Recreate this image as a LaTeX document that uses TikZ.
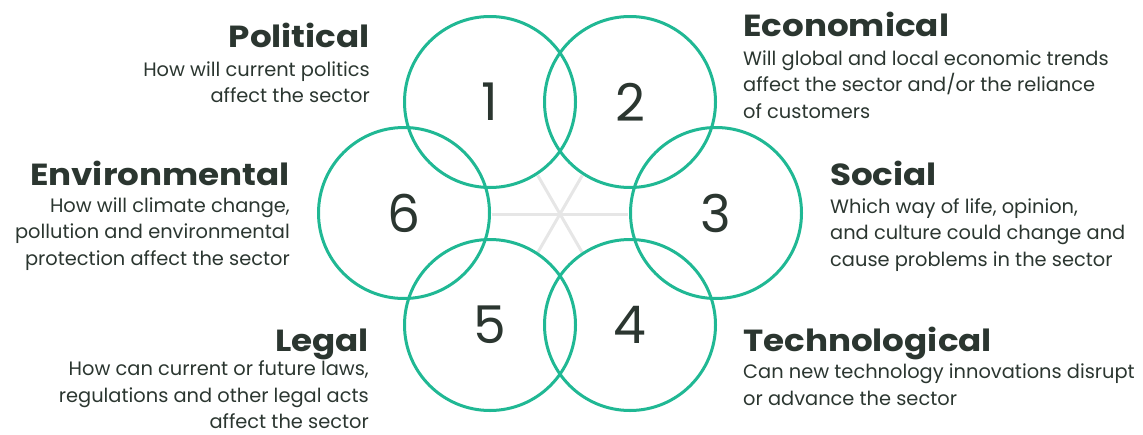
\documentclass[tikz,border=0pt]{standalone}
\usepackage{fontspec}
\setmainfont{Poppins}
\newfontfamily\headfont[FakeStretch=1.12]{Poppins}
\usepackage{tikz}
\usetikzlibrary{positioning}
\definecolor{ringgreen}{RGB}{32,184,148}
\definecolor{inkgreen}{HTML}{2B3630}
\definecolor{spokegray}{HTML}{E6E6E6}

\begin{document}
\begin{tikzpicture}[x=1pt,y=-1pt,
    ring/.style={circle,draw=ringgreen,line width=3pt,minimum size=171pt,
      inner sep=0pt,text=inkgreen,font=\fontsize{52}{52}\selectfont},
    head/.style={text=inkgreen,inner sep=0pt,font=\headfont\bfseries\fontsize{30.5}{30.5}\selectfont},
    blurb/.style={text=inkgreen,inner sep=0pt,font=\fontsize{19.4}{26.5}\selectfont}]
	\useasboundingbox (0,0) rectangle (1143,434);
%	spokes in the middle
	\coordinate (hub) at (560,214);
	\foreach \ang/\len in {0/68,180/68,60/44.5,120/44.5,240/44.5,300/44.5}
	  \draw[spokegray,line width=3pt] (hub) -- ++(\ang:\len);
%	the six rings
	\node[ring] (r1) at (490,102) {1};
	\node[ring] (r2) at (630,102) {2};
	\node[ring] (r3) at (716,213) {3};
	\node[ring] (r4) at (630,325) {4};
	\node[ring] (r5) at (490,325) {5};
	\node[ring] (r6) at (404,213) {6};
%	left texts (base = last line)
	\node[head,anchor=base east] (polH) at (370,47.5) {Political};
	\node[blurb,anchor=base east,align=right] (polB) at (370,102.5)
	  {How will current politics\\affect the sector};
	\node[head,anchor=base east] (envH) at (290,185) {Environmental};
	\node[blurb,anchor=base east,align=right] (envB) at (290,265)
	  {How will climate change,\\pollution and environmental\\protection affect the sector};
	\node[head,anchor=base east] (legH) at (369,351.5) {Legal};
	\node[blurb,anchor=base east,align=right] (legB) at (369,428.5)
	  {How can current or future laws,\\regulations and other legal acts\\affect the sector};
%	right texts
	\node[head,anchor=base west] (ecoH) at (743,36.5) {Economical};
	\node[blurb,anchor=base west,align=left] (ecoB) at (743,118.3)
	  {Will global and local economic trends\\affect the sector and/or the reliance\\of customers};
	\node[head,anchor=base west] (socH) at (830,185.5) {Social};
	\node[blurb,anchor=base west,align=left] (socB) at (830,266)
	  {Which way of life, opinion,\\and culture could change and\\cause problems in the sector};
	\node[head,anchor=base west] (tecH) at (743,351.5) {Technological};
	\node[blurb,anchor=base west,align=left] (tecB) at (743,405)
	  {Can new technology innovations disrupt\\or advance the sector};
\end{tikzpicture}
\end{document}
